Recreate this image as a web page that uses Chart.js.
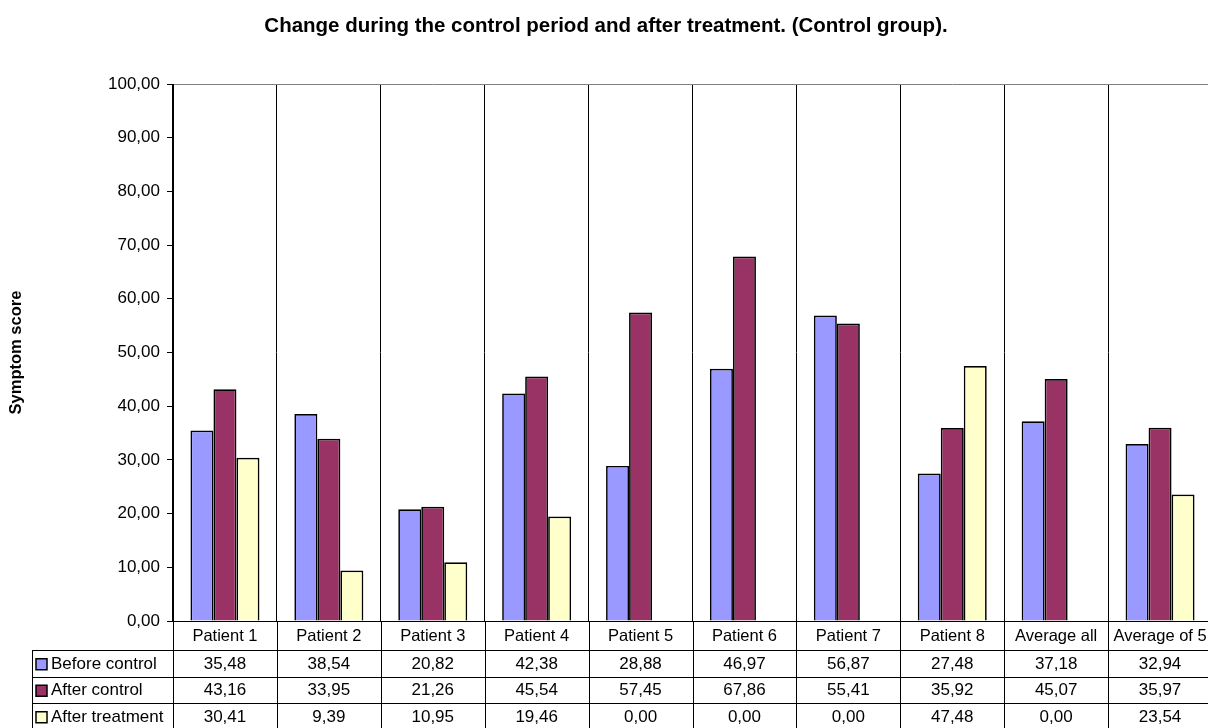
<!DOCTYPE html>
<html>
<head>
<meta charset="utf-8">
<script src="https://cdn.jsdelivr.net/npm/chart.js@4.4.1/dist/chart.umd.min.js"></script>
<style>
  html, body { margin: 0; padding: 0; background: #fff; overflow: hidden; }
  #wrap { width: 1216px; height: 728px; }
</style>
</head>
<body>
<div id="wrap"><canvas id="c" width="1216" height="728"></canvas></div>
<script>
const categories = ['Patient 1','Patient 2','Patient 3','Patient 4','Patient 5','Patient 6','Patient 7','Patient 8','Average all','Average of 5'];
const beforeControl = [35.48, 38.54, 20.82, 42.38, 28.88, 46.97, 56.87, 27.48, 37.18, 32.94];
const afterControl  = [43.16, 33.95, 21.26, 45.54, 57.45, 67.86, 55.41, 35.92, 45.07, 35.97];
const afterTreatment = [30.41, 9.39, 10.95, 19.46, 0.00, 0.00, 0.00, 47.48, 0.00, 23.54];
const seriesNames = ['Before control', 'After control', 'After treatment'];
const seriesColors = ['#9999FF', '#993366', '#FFFFCC'];
const yTicks = [0, 10, 20, 30, 40, 50, 60, 70, 80, 90, 100];

const FONT = '"Liberation Sans", Arial, Helvetica, sans-serif';
const fmt = v => v.toFixed(2).replace('.', ',');
const seriesData = [beforeControl, afterControl, afterTreatment];

const tablePlugin = {
  id: 'dataTable',
  afterDraw(chart) {
    const ctx = chart.ctx;
    const xs = chart.scales.x;
    const area = chart.chartArea;
    const n = categories.length;
    const w = (area.right - area.left) / n;
    const top = area.bottom;
    const headerBottom = 650;
    const rowH = 26.5;
    const tableLeft = 32;
    const tableBottom = headerBottom + rowH * 3;
    ctx.save();
    ctx.strokeStyle = '#000';
    ctx.lineWidth = 1;
    for (let i = 0; i <= n; i++) {
      const x = Math.round(area.left + i * w) + 0.5;
      ctx.beginPath();
      ctx.moveTo(x, top);
      ctx.lineTo(x, tableBottom);
      ctx.stroke();
    }
    ctx.beginPath();
    ctx.moveTo(tableLeft + 0.5, headerBottom);
    ctx.lineTo(tableLeft + 0.5, tableBottom);
    ctx.stroke();
    for (let r = 0; r <= 3; r++) {
      const y = Math.round(headerBottom + r * rowH) + 0.5;
      ctx.beginPath();
      ctx.moveTo(tableLeft, y);
      ctx.lineTo(area.right, y);
      ctx.stroke();
    }
    ctx.fillStyle = '#000';
    ctx.textAlign = 'center';
    ctx.textBaseline = 'middle';
    for (let i = 0; i < n; i++) {
      const cx = xs.getPixelForValue(i);
      ctx.font = '16.5px ' + FONT;
      ctx.fillText(categories[i], cx, (top + headerBottom) / 2 + 1);
      ctx.font = '17px ' + FONT;
      for (let r = 0; r < 3; r++) {
        ctx.fillText(fmt(seriesData[r][i]), cx, headerBottom + r * rowH + rowH / 2 + 1);
      }
    }
    ctx.textAlign = 'left';
    ctx.font = '17px ' + FONT;
    for (let r = 0; r < 3; r++) {
      const cy = headerBottom + r * rowH + rowH / 2 + 1;
      ctx.fillStyle = seriesColors[r];
      ctx.fillRect(36, cy - 5.5, 11, 11);
      ctx.strokeStyle = '#000';
      ctx.lineWidth = 1.5;
      ctx.strokeRect(36, cy - 5.5, 11, 11);
      ctx.fillStyle = '#000';
      ctx.fillText(seriesNames[r], 51, cy);
    }
    ctx.restore();
  }
};

new Chart(document.getElementById('c'), {
  type: 'bar',
  data: {
    labels: categories,
    datasets: seriesData.map((d, i) => ({
      label: seriesNames[i],
      data: d,
      backgroundColor: seriesColors[i],
      borderColor: '#000',
      borderWidth: 1.7,
      borderSkipped: 'bottom',
      barPercentage: 1,
      categoryPercentage: 0.664
    }))
  },
  options: {
    responsive: false,
    animation: false,
    devicePixelRatio: 1,
    layout: { padding: { left: 0, right: 4, top: 0, bottom: 0 } },
    plugins: {
      legend: { display: false },
      tooltip: { enabled: false },
      title: {
        display: true,
        text: 'Change during the control period and after treatment. (Control group).',
        color: '#000',
        font: { family: FONT, size: 20.5, weight: 'bold' },
        padding: { top: 14, bottom: 45.4 }
      }
    },
    scales: {
      x: {
        type: 'category',
        offset: true,
        ticks: { display: false },
        grid: { display: true, offset: true, color: '#000', lineWidth: 1, drawTicks: false },
        border: { display: true, color: '#000', width: 1 },
        afterFit(scale) { scale.height = 107; }
      },
      y: {
        min: 0,
        max: 100,
        afterBuildTicks(scale) { scale.ticks = yTicks.map(v => ({ value: v })); },
        ticks: {
          color: '#000',
          font: { family: FONT, size: 17 },
          padding: 7,
          callback: v => fmt(v)
        },
        grid: {
          display: true,
          drawOnChartArea: true,
          color: c => (c.tick && c.tick.value === 100) ? '#808080' : 'rgba(0,0,0,0)',
          tickColor: '#000',
          tickLength: 6,
          lineWidth: 1
        },
        border: { display: true, color: '#000', width: 1 },
        title: {
          display: true,
          text: 'Symptom score',
          color: '#000',
          font: { family: FONT, size: 16.5, weight: 'bold' },
          padding: { top: 7, bottom: 0 }
        },
        afterFit(scale) { scale.width = 173; }
      }
    }
  },
  plugins: [tablePlugin]
});
</script>
</body>
</html>
